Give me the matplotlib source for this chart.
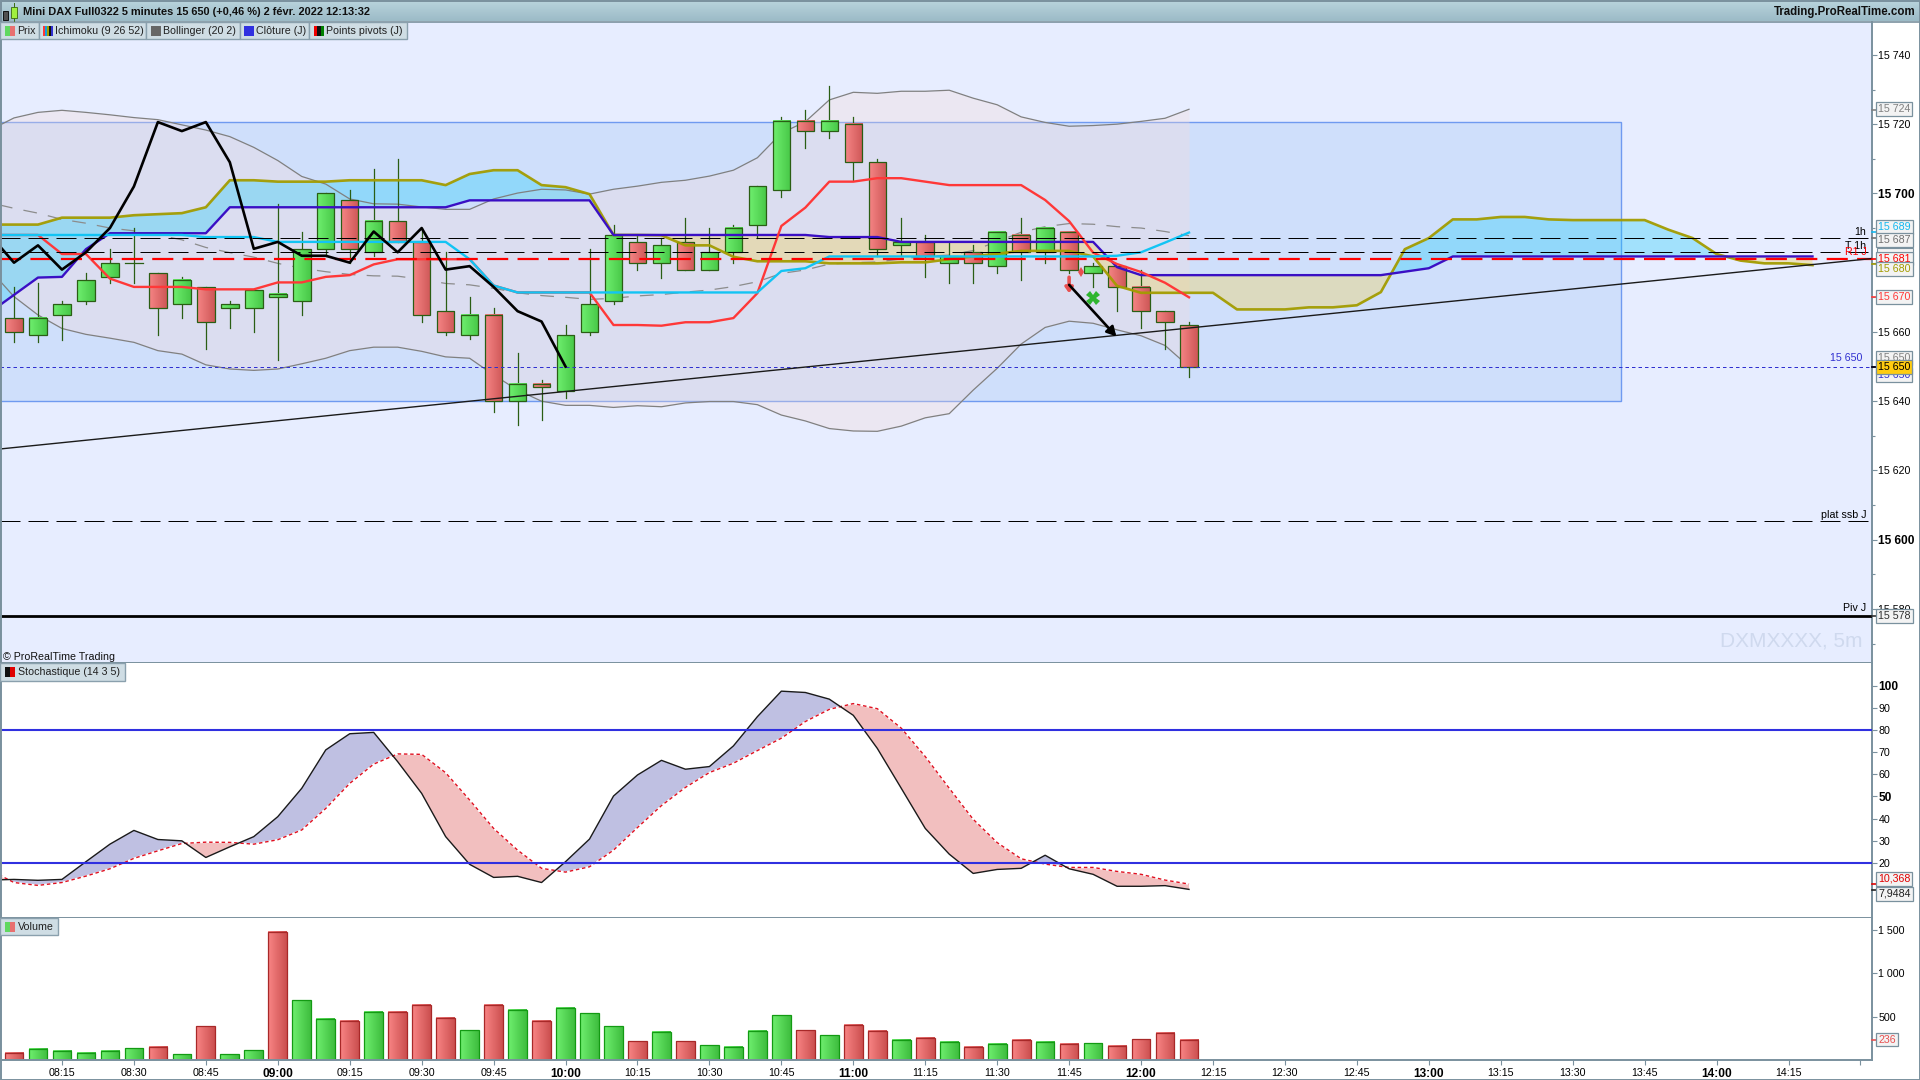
import numpy as np
import matplotlib
matplotlib.use("Agg")
import matplotlib.pyplot as plt
from matplotlib.colors import to_rgb
from matplotlib.patches import Rectangle

plt.rcParams['font.family'] = ['Liberation Sans', 'DejaVu Sans']

# candles, one per 5 minutes starting 08:05
opens = [15664, 15659, 15665, 15669, 15676, 15680, 15677, 15668, 15673, 15667,
         15667, 15670, 15669, 15684, 15698, 15683, 15692, 15686, 15666, 15659,
         15665, 15640, 15645, 15643, 15660, 15669, 15686, 15680, 15686, 15678,
         15683, 15691, 15701, 15721, 15718, 15720, 15709, 15685, 15686, 15680,
         15683, 15679, 15688, 15683, 15689, 15677, 15679, 15673, 15666, 15662]
highs = [15673, 15674, 15669, 15677, 15684, 15690, 15677, 15676, 15673, 15669,
         15672, 15697, 15689, 15700, 15701, 15707, 15710, 15690, 15683, 15670,
         15667, 15654, 15646, 15662, 15684, 15691, 15688, 15687, 15693, 15690,
         15691, 15702, 15722, 15724, 15731, 15722, 15710, 15693, 15688, 15686,
         15685, 15689, 15693, 15690, 15689, 15680, 15679, 15678, 15666, 15663]
lows = [15657, 15657, 15657.7, 15668, 15674, 15674, 15659, 15664, 15655, 15661,
        15660, 15652, 15665, 15682, 15680, 15682, 15686, 15663, 15659, 15658,
        15637, 15633, 15634.6, 15641, 15659, 15668, 15678, 15675.6, 15678, 15678,
        15680, 15687, 15699, 15713, 15716, 15704, 15682, 15682, 15676, 15674,
        15674, 15677, 15675, 15680, 15677, 15673, 15666, 15661, 15655, 15647]
closes = [15660, 15664, 15668, 15675, 15680, 15680, 15667, 15675, 15663, 15668,
          15672, 15671, 15684, 15700, 15684, 15692, 15686, 15665, 15660, 15665,
          15640, 15645, 15644, 15659, 15668, 15688, 15680, 15685, 15678, 15683,
          15690, 15702, 15721, 15718, 15721, 15709, 15684, 15686, 15682, 15682,
          15680, 15689, 15683, 15690, 15678, 15679, 15673, 15666, 15663, 15650]

# indicator series, all start one bar before the first candle
tenkan = [15688, 15688, 15688, 15682.5, 15682.5, 15675.4, 15673, 15673, 15673, 15672.3,
          15672.3, 15672.3, 15674.3, 15674.3, 15675.9, 15676.4, 15679.5, 15681, 15681, 15681,
          15681, 15673.4, 15671.4, 15671.4, 15671.4, 15671.4, 15662, 15662, 15661.8, 15662.8,
          15662.8, 15664, 15671.2, 15690.6, 15695.9, 15703.4, 15703.4, 15704.4, 15704.4, 15703.4,
          15702.4, 15702.4, 15702.4, 15702.4, 15698.1, 15692, 15682.9, 15679.6, 15677.3, 15674.2,
          15670]
kijun = [15688, 15688, 15688, 15688, 15688, 15688, 15688, 15688, 15688, 15687.4,
         15687.4, 15687.4, 15686, 15686, 15686, 15686, 15686, 15686, 15686, 15686,
         15681, 15673.4, 15671.4, 15671.4, 15671.4, 15671.4, 15671.4, 15671.4, 15671.4, 15671.4,
         15671.4, 15671.4, 15671.4, 15677.6, 15678.4, 15681.8, 15681.8, 15681.8, 15681.8, 15681.8,
         15681.8, 15681.8, 15681.8, 15681.8, 15681.8, 15681.8, 15681.8, 15682, 15683, 15685.8,
         15688.7]
senkou_a = [15665.7, 15670.7, 15675.7, 15675.9, 15683.9, 15688.5, 15688.5, 15688.5, 15688.5, 15688.5,
            15696, 15696, 15696, 15696, 15696, 15696, 15696, 15696, 15696, 15696,
            15698, 15698, 15698, 15698, 15698, 15698, 15688, 15688, 15688, 15688,
            15688, 15688, 15688, 15688, 15688, 15687.4, 15687.4, 15687.4, 15686, 15686,
            15686, 15686, 15686, 15686, 15686, 15686, 15686, 15678.7, 15676.4, 15676.4,
            15676.4, 15676.4, 15676.4, 15676.4, 15676.4, 15676.4, 15676.4, 15676.4, 15676.4, 15677.4,
            15678.4, 15681.8, 15681.8, 15681.8, 15681.8, 15681.8, 15681.8, 15681.8, 15681.8, 15681.8,
            15681.8, 15681.8, 15681.8, 15681.8, 15681.8, 15681.8, 15681.8]
senkou_b = [15691, 15691, 15691, 15693, 15693, 15693, 15693.7, 15694, 15694.3, 15696,
            15703.8, 15703.8, 15703.4, 15703.4, 15703.4, 15703.8, 15703.8, 15703.8, 15703.8, 15702.4,
            15705.6, 15706.7, 15706.7, 15702.4, 15701.8, 15699.8, 15688, 15688, 15687.9, 15685,
            15685, 15681.7, 15680.4, 15680.4, 15680.4, 15679.8, 15679.8, 15679.8, 15680.1, 15680.1,
            15681, 15681.8, 15682.6, 15683.4, 15683.4, 15683.4, 15681.8, 15673.3, 15671.3, 15671.3,
            15671.3, 15671.3, 15666.5, 15666.5, 15666.5, 15667.1, 15667.1, 15667.7, 15671.5, 15683.9,
            15687.1, 15692.5, 15692.5, 15693.2, 15693.2, 15692.5, 15692.3, 15692.3, 15692.3, 15692.3,
            15689.5, 15687.1, 15682.5, 15680.6, 15679.8, 15679.8, 15679.3]
chikou = [15688, 15680, 15685, 15678, 15683, 15690, 15702, 15720.6, 15718, 15720.6,
          15709, 15684, 15686, 15682, 15682, 15680, 15689, 15683, 15690, 15678,
          15679, 15673, 15666, 15663, 15650]
boll_up = [15718.3, 15721.8, 15723.4, 15724, 15723.4, 15722.7, 15721.9, 15721.3, 15719.8, 15718.3,
           15716.4, 15713.3, 15709.5, 15704.9, 15702.7, 15698.4, 15697, 15696.9, 15696.1, 15695.4,
           15695.4, 15698.4, 15700.1, 15701.2, 15701, 15699.8, 15701.2, 15702.1, 15703.2, 15703.8,
           15705, 15706.7, 15710.3, 15717.4, 15720.7, 15727, 15729.2, 15728.9, 15729.5, 15729.5,
           15729.8, 15727.5, 15725.6, 15722.1, 15720.5, 15719.4, 15719.6, 15720, 15720.8, 15721.7,
           15724.3]
boll_low = [15677.9, 15670.2, 15664.9, 15661, 15659.3, 15658.2, 15657, 15654.6, 15653.6, 15650.5,
            15649.3, 15648.9, 15649.3, 15650.8, 15652.4, 15654.6, 15655.6, 15655.6, 15654.4, 15652.8,
            15652.4, 15647.6, 15643.2, 15640, 15638.8, 15638.8, 15638.2, 15638.7, 15638.4, 15639.5,
            15639.9, 15639.9, 15639, 15636, 15634.3, 15632.1, 15631.4, 15631.3, 15632.8, 15635.2,
            15636.4, 15643.2, 15649.5, 15656.5, 15661.3, 15663.1, 15662.5, 15660.6, 15658.9, 15656.1,
            15650]
boll_mid = [15697.3, 15695.7, 15694.3, 15692.5, 15691.4, 15690, 15689.2, 15688, 15686.6, 15684.4,
            15682.9, 15681.6, 15679.8, 15678.4, 15677.4, 15676.6, 15676.2, 15676.1, 15675.2, 15674,
            15673.6, 15672.6, 15671.3, 15670.5, 15670, 15669.4, 15669.7, 15670.4, 15670.8, 15671.5,
            15672.1, 15673.1, 15674.5, 15676.9, 15677.9, 15679.6, 15680, 15680.2, 15681.1, 15681.8,
            15682.2, 15683.5, 15686.1, 15688.8, 15690.4, 15691.3, 15691.1, 15690.4, 15690, 15689,
            15687.8]

stoch_k = [12.3, 12.6, 12.2, 12.6, 20.6, 28.5, 34.7, 30.6, 30, 22.5,
           27.3, 31.9, 40.9, 53.7, 71, 78.3, 78.9, 65.7, 51.4, 31.9,
           19.4, 13.5, 14, 11.2, 20.6, 30.8, 50.2, 59.7, 66.3, 62.3,
           63.5, 72.8, 86, 97.5, 96.9, 93.9, 86.6, 71.7, 53.7, 35.6,
           24, 15.3, 17.1, 17.6, 23.5, 17.4, 14.9, 9.5, 9.5, 9.8,
           8.1]
stoch_d = [16.8, 11.2, 9.9, 11.2, 14.1, 17.4, 22.1, 25.5, 28.8, 29.4,
           29.3, 28.5, 30.5, 34.9, 44.6, 55.9, 64.6, 69.2, 69, 60.7,
           48.4, 35.6, 25.8, 17.6, 15.9, 18.3, 25.8, 36, 45.9, 54.1,
           60.8, 65, 70.7, 76.3, 83.8, 89.3, 91.9, 89.6, 80.8, 68,
           53.7, 39.7, 29.2, 21.9, 19.5, 18, 18, 16.2, 14.9, 12.3,
           10.5]
volumes = [81, 127, 104, 81, 104, 138, 150, 69, 392, 69,
           115, 1477, 692, 473, 450, 554, 554, 635, 485, 346,
           635, 577, 450, 600, 542, 392, 219, 323, 219, 173,
           150, 335, 519, 346, 288, 404, 335, 231, 254, 208,
           150, 185, 231, 208, 185, 196, 162, 242, 312, 231]
# colour of each volume bar, it follows the tick direction rather than the candle
vol_colors = list('rggggg' 'rgrggr' 'ggrgrr' 'rgrgrg' 'ggrgrg' 'gggrgr' 'rgrgrg' 'rgrgrr' 'rr')

time_labels = ['08:15', '08:30', '08:45', '09:00', '09:15', '09:30', '09:45', '10:00',
               '10:15', '10:30', '10:45', '11:00', '11:15', '11:30', '11:45', '12:00',
               '12:15', '12:30', '12:45', '13:00', '13:15', '13:30', '13:45', '14:00',
               '14:15', '']

level_1h = 15687
level_t1h = 15683
level_r1 = 15681.2
level_ssb = 15605.3
level_piv = 15578
level_last = 15650
box_top, box_bottom = 15720.7, 15640
trend_ends = [15626.2, 15681.2]

W, H = 1920, 1080
FRAME = '#7A919E'
BG = '#E7EDFF'
PLOT_R = 1872
bar_px = 23.98
first_px = 14


def add_panel(top, bottom, ylim, face):
    ax = fig.add_axes([0, 1 - bottom / H, PLOT_R / W, (bottom - top) / H], facecolor=face)
    ax.set_xlim(-first_px / bar_px, (PLOT_R - first_px) / bar_px)
    ax.set_ylim(*ylim)
    ax.yaxis.tick_right()
    for name, sp in ax.spines.items():
        sp.set_color(FRAME)
        sp.set_linewidth(1.4)
    ax.spines['top'].set_visible(False)
    ax.tick_params(axis='y', which='both', color=FRAME, length=3.6, width=0.8, pad=1, labelsize=7.7)
    ax.tick_params(axis='x', which='both', bottom=False, labelbottom=False)
    return ax


def grad_rect(ax, x0, x1, y0, y1, c0, c1, ec, z, lw=1.0):
    ramp = np.linspace(to_rgb(c0), to_rgb(c1), 16)[np.newaxis, :, :]
    ax.imshow(ramp, extent=(x0, x1, y0, y1), aspect='auto', interpolation='bilinear',
              origin='lower', zorder=z)
    ax.add_patch(Rectangle((x0, y0), x1 - x0, y1 - y0, fc='none', ec=ec, lw=lw, zorder=z + 0.1))


def side_label(ax, pos, value, text, color, z=6, fc='#F3F3F3', ec=FRAME):
    # boxed value in the right scale, with a short coloured mark at the axis
    yax = ax.get_yaxis_transform()
    ax.plot([1, 1.0028], [value, value], color=color, lw=1.2, transform=yax, clip_on=False, zorder=z)
    ax.text(1.0033, pos, text, color=color, fontsize=7.7, ha='left', va='center', transform=yax,
            clip_on=False, zorder=z, bbox=dict(boxstyle='square,pad=0.18', fc=fc, ec=ec, lw=0.9))


def format_fr(v, pos=None):
    return f'{int(v):,}'.replace(',', ' ')


fig = plt.figure(figsize=(W / 100, H / 100), dpi=100, facecolor='white')
ax_p = add_panel(22, 663, (15564.4, 15749.5), BG)
ax_s = add_panel(663, 918, (-4.8, 110.2), 'white')
ax_v = add_panel(918, 1060, (0, 1638), 'white')

x_c = np.arange(len(closes))
x_i = np.arange(-1, len(tenkan) - 1)
x_sk = np.arange(-1, len(senkou_a) - 1)
x_ch = np.arange(-1, len(chikou) - 1)

# price panel
xl = ax_p.get_xlim()
ax_p.add_patch(Rectangle((xl[0] - 1, box_bottom), 67 - xl[0] + 1, box_top - box_bottom,
                         fc=(0.6, 0.757, 0.96, 0.3), ec='#6F9AF0', lw=1.0, zorder=1))
ax_p.fill_between(x_i, boll_low, boll_up, color='#F7DBD7', alpha=0.3, lw=0, zorder=1.2)

sa = np.array(senkou_a)
sb = np.array(senkou_b)
ax_p.fill_between(x_sk, sa, sb, where=sb >= sa, interpolate=True, color='#17CBF8', alpha=0.33, lw=0, zorder=1.4)
ax_p.fill_between(x_sk, sa, sb, where=sa >= sb, interpolate=True, color='#F0D466', alpha=0.4, lw=0, zorder=1.4)

ax_p.plot(x_i, boll_up, color='#808080', lw=0.9, zorder=1.6)
ax_p.plot(x_i, boll_low, color='#808080', lw=0.9, zorder=1.6)
ax_p.plot(x_i, boll_mid, color='#8C8C8C', lw=0.9, dashes=(11, 9), zorder=1.6)

for i in x_c:
    ax_p.plot([i, i], [lows[i], highs[i]], color='#2A5E14', lw=0.9, zorder=2)
    top, bot = max(opens[i], closes[i]), min(opens[i], closes[i])
    if closes[i] >= opens[i]:
        c0, c1 = '#6EEE6E', '#48C848'
    else:
        c0, c1 = '#F58484', '#CF5858'
    if top == bot:
        ax_p.plot([i - 0.36, i + 0.36], [top, top], color='#2A5E14', lw=0.9, zorder=2.2)
    else:
        grad_rect(ax_p, i - 0.365, i + 0.365, bot, top, c0, c1, '#2A5E14', 2.1, lw=0.9)

ax_p.plot(x_sk, senkou_b, color='#A39C00', lw=1.9, alpha=0.95, zorder=3)
ax_p.plot(x_sk, senkou_a, color='#3A0FC4', lw=1.7, zorder=3.1)
ax_p.plot(x_i, tenkan, color='#FF3838', lw=1.7, zorder=3.2)
ax_p.plot(x_i, kijun, color='#12C4F4', lw=1.7, zorder=3.3)
ax_p.plot(x_ch, chikou, color='black', lw=1.9, zorder=3.6)

ax_p.plot(xl, trend_ends, color='#1A1A1A', lw=1.0, zorder=3.5)
ax_p.axhline(level_1h, color='black', lw=0.72, dashes=(20, 8), zorder=3.4)
ax_p.axhline(level_t1h, color='black', lw=0.72, dashes=(20, 8), zorder=3.4)
ax_p.axhline(level_r1, color='#FF0000', lw=1.6, dashes=(9.5, 4.2), zorder=3.45)
ax_p.axhline(level_ssb, color='black', lw=0.72, dashes=(20, 8), zorder=3.4)
ax_p.axhline(level_piv, color='black', lw=2.0, zorder=3.4)
ax_p.axhline(level_last, color='#3030D0', lw=0.72, dashes=(3.5, 3), zorder=3.4)

ax_p.annotate('', xy=(45.97, 15658.7), xytext=(44.0, 15673.6), zorder=4,
              arrowprops=dict(arrowstyle='-|>,head_length=0.55,head_width=0.3', color='black', lw=1.9,
                              shrinkA=0, shrinkB=0))
ax_p.annotate('', xy=(44, 15671.2), xytext=(44, 15675.8), zorder=3.9,
              arrowprops=dict(arrowstyle='-|>,head_length=0.3,head_width=0.22', color='#E85050', lw=2.6,
                              shrinkA=0, shrinkB=0))
ax_p.plot([44.5], [15677.3], marker='d', ms=5, color='#E85050', mew=0, zorder=3.9)
ax_p.plot([45], [15669.8], marker='X', ms=9.5, color='#2FB52F', mew=0, zorder=3.9)

yax = ax_p.get_yaxis_transform()
right_x = 1866.5 / PLOT_R
for lvl, txt, col in [(level_1h + 0.5, '1h', 'black'), (level_t1h + 0.5, 'T 1h', 'black'),
                      (level_r1 + 0.5, 'R1 J', '#FF0000'), (level_ssb + 0.5, 'plat ssb J', 'black'),
                      (level_piv + 0.8, 'Piv J', 'black')]:
    ax_p.text(right_x, lvl, txt, color=col, fontsize=7.7, ha='right', va='bottom', transform=yax, zorder=5)
ax_p.text(1862 / PLOT_R, level_last + 0.9, format_fr(level_last), color='#3030D0', fontsize=7.7,
          ha='right', va='bottom', transform=yax, zorder=5)
ax_p.text(1791 / PLOT_R, 15570.8, 'DXMXXXX, 5m', color='#CFD9EE', fontsize=15, ha='center', va='center',
          transform=yax, zorder=1)

p_ticks = np.arange(15580, 15741, 20)
ax_p.set_yticks(p_ticks)
ax_p.set_yticklabels([format_fr(v) for v in p_ticks])
ax_p.set_yticks(np.arange(15570, 15740, 20), minor=True)
ax_p.tick_params(axis='y', which='minor', length=2.0)
for v, lab in zip(p_ticks, ax_p.get_yticklabels()):
    if v % 100 == 0:
        lab.set_fontweight('bold')
        lab.set_fontsize(8.6)

side_label(ax_p, 15724.4, 15724, '15 724', '#808080', z=6)
side_label(ax_p, 15690.3, 15688.9, '15 689', '#12B8F0', z=6)
side_label(ax_p, 15686.6, 15687, '15 687', '#707070', z=6.2)
side_label(ax_p, 15681.2, 15681.2, '15 681', '#FF0000', z=6.4)
side_label(ax_p, 15678.2, 15679.6, '15 680', '#A39C00', z=6.6)
side_label(ax_p, 15670.1, 15670, '15 670', '#FF3838', z=6)
side_label(ax_p, 15652.5, 15650, '15 650', '#808080', z=6)
side_label(ax_p, 15647.5, 15650, '15 650', '#3030D0', z=6)
side_label(ax_p, 15649.9, 15650, '15 650', 'black', z=6.8, fc='#FFCC10')
side_label(ax_p, 15578, 15578, '15 578', '#303030', z=6)

# stochastic panel
k = np.array(stoch_k)
d = np.array(stoch_d)
ax_s.fill_between(x_i, k, d, where=k >= d, interpolate=True, color='#BFC0E2', lw=0, zorder=1)
ax_s.fill_between(x_i, k, d, where=d >= k, interpolate=True, color='#F2BFBF', lw=0, zorder=1)
ax_s.plot(x_i, stoch_d, color='white', lw=1.1, zorder=2)
ax_s.plot(x_i, stoch_d, color='#E01020', lw=1.0, dashes=(2.5, 2), zorder=2.1)
ax_s.plot(x_i, stoch_k, color='#1A1A1A', lw=1.0, zorder=2.2)
ax_s.axhline(80, color='#3030E0', lw=1.5, zorder=3)
ax_s.axhline(20, color='#3030E0', lw=1.5, zorder=3)
s_ticks = np.arange(20, 101, 10)
ax_s.set_yticks(s_ticks)
ax_s.set_yticklabels([str(v) for v in s_ticks])
for v, lab in zip(s_ticks, ax_s.get_yticklabels()):
    if v % 50 == 0:
        lab.set_fontweight('bold')
        lab.set_fontsize(8.6)
side_label(ax_s, 12.8, 10.37, '10,368', '#E00000', z=6)
side_label(ax_s, 6.1, 7.95, '7,9484', '#202020', z=6)

# volume panel
for i in x_c:
    if vol_colors[i] == 'g':
        grad_rect(ax_v, i - 0.39, i + 0.39, 0, volumes[i], '#6EEE6E', '#3FBE3F', '#139A13', 2, lw=0.9)
    else:
        grad_rect(ax_v, i - 0.39, i + 0.39, 0, volumes[i], '#F88484', '#CC5050', '#A82828', 2, lw=0.9)
v_ticks = [500, 1000, 1500]
ax_v.set_yticks(v_ticks)
ax_v.set_yticklabels([format_fr(v) for v in v_ticks])
side_label(ax_v, 236, 236, '236', '#E85050', z=6)

# time axis under the volume panel
t_pos = 2 + 3 * np.arange(len(time_labels))
ax_v.set_xticks(t_pos)
ax_v.set_xticklabels(time_labels)
ax_v.tick_params(axis='x', bottom=True, labelbottom=True, color=FRAME, length=3.6, width=0.8, pad=2.5,
                 labelsize=7.7)
for txt, lab in zip(time_labels, ax_v.get_xticklabels()):
    if txt.endswith(':00'):
        lab.set_fontweight('bold')
        lab.set_fontsize(8.6)

# window chrome in pixel coordinates
ch = fig.add_axes([0, 0, 1, 1], zorder=10, facecolor='none')
ch.set_xlim(0, W)
ch.set_ylim(H, 0)
ch.axis('off')
ramp = np.linspace(to_rgb('#B9D4DD'), to_rgb('#9CBBC7'), 16)[:, np.newaxis, :]
ch.imshow(ramp, extent=(0, W, 21, 0), aspect='auto', interpolation='bilinear', zorder=1, origin='upper')
ch.plot([0, W], [21.5, 21.5], color=FRAME, lw=1.2, zorder=2)
ch.add_patch(Rectangle((0.5, 0.5), W - 1, H - 1, fc='none', ec=FRAME, lw=1.4, zorder=2))
ch.add_patch(Rectangle((3, 11), 5, 9, fc='#505050', ec='black', lw=0.6, zorder=3))
ch.add_patch(Rectangle((11, 7), 6, 11, fc='#A0F040', ec='#3A6A10', lw=0.6, zorder=3))
ch.plot([14, 14], [3, 21], color='#3A6A10', lw=0.7, zorder=2.9)
ch.text(23, 12, 'Mini DAX Full0322 5 minutes 15 650 (+0,46 %) 2 févr. 2022 12:13:32',
        fontsize=7.9, fontweight='bold', color='#101010', ha='left', va='center', zorder=3)
ch.text(1916, 12, 'Trading.ProRealTime.com', fontsize=8.3, fontweight='bold', color='#101010',
        ha='right', va='center', zorder=3)


def tab(x0, x1, y0, y1, label, tx, icon_x, icon_cols):
    ch.add_patch(Rectangle((x0, y0), x1 - x0, y1 - y0, fc='#CFDDE4', ec='#8AA0AD', lw=1.0, zorder=3))
    w = 10 / len(icon_cols)
    for n, col in enumerate(icon_cols):
        ch.add_patch(Rectangle((icon_x + n * w, y0 + 4), w, 10, fc=col, lw=0, zorder=4))
    ch.text(tx, (y0 + y1) / 2 + 0.3, label, fontsize=7.7, color='#202020', ha='left', va='center', zorder=4)


tab(0, 39, 22, 39, 'Prix', 17.5, 5, ['#60D860', '#E87070'])
tab(39, 146, 22, 39, 'Ichimoku (9 26 52)', 55, 43, ['#FF3838', '#12A0E0', '#A39C00', '#101010', '#3030D0'])
tab(146, 240, 22, 39, 'Bollinger (20 2)', 163, 151, ['#666666'])
tab(240, 309, 22, 39, 'Clôture (J)', 256, 244, ['#3030E0'])
tab(309, 407, 22, 39, 'Points pivots (J)', 326, 314, ['#F00000', '#101010', '#008000'])
ch.text(3, 657, '© ProRealTime Trading', fontsize=7.7, color='#101010', ha='left', va='center', zorder=4)
tab(0, 125, 663, 681, 'Stochastique (14 3 5)', 17.5, 5, ['#101010', '#E00000'])
tab(0, 58, 918, 935, 'Volume', 18, 5, ['#60D860', '#E87070'])

# blank sliver of a price box between the 15 687 and 15 681 boxes
ch.add_patch(Rectangle((1877, 248), 36, 3.5, fc='#F3F3F3', ec=FRAME, lw=0.8, zorder=0.5))

fig.savefig('out.png', dpi=100)
